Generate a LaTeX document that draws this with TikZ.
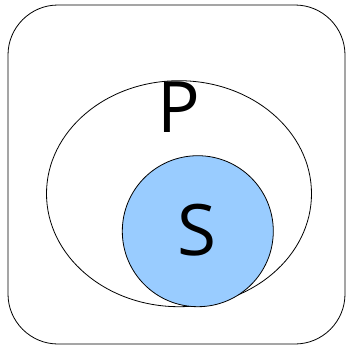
\documentclass[tikz,border=0pt]{standalone}
\usepackage{fontspec}
\setmainfont{Open Sans}
\usepackage{tikz}
\definecolor{setblue}{HTML}{99CCFF}

\begin{document}
\begin{tikzpicture}[x=1pt, y=-1pt, line width=0.8pt]
    \useasboundingbox (0, 0) rectangle (346, 346);
    % universe
    \draw[rounded corners=50pt] (8, 5) rectangle (345, 344);
    % P
    \draw (179, 193.7) ellipse [x radius=132.5, y radius=113];
    \node (plabel) at (179, 107) {\fontsize{71}{71}\selectfont P};
    % S
    \filldraw[fill=setblue] (197.8, 231.2) circle [radius=75.5];
    \node (slabel) at (197, 230.5) {\fontsize{71}{71}\selectfont S};
\end{tikzpicture}
\end{document}
